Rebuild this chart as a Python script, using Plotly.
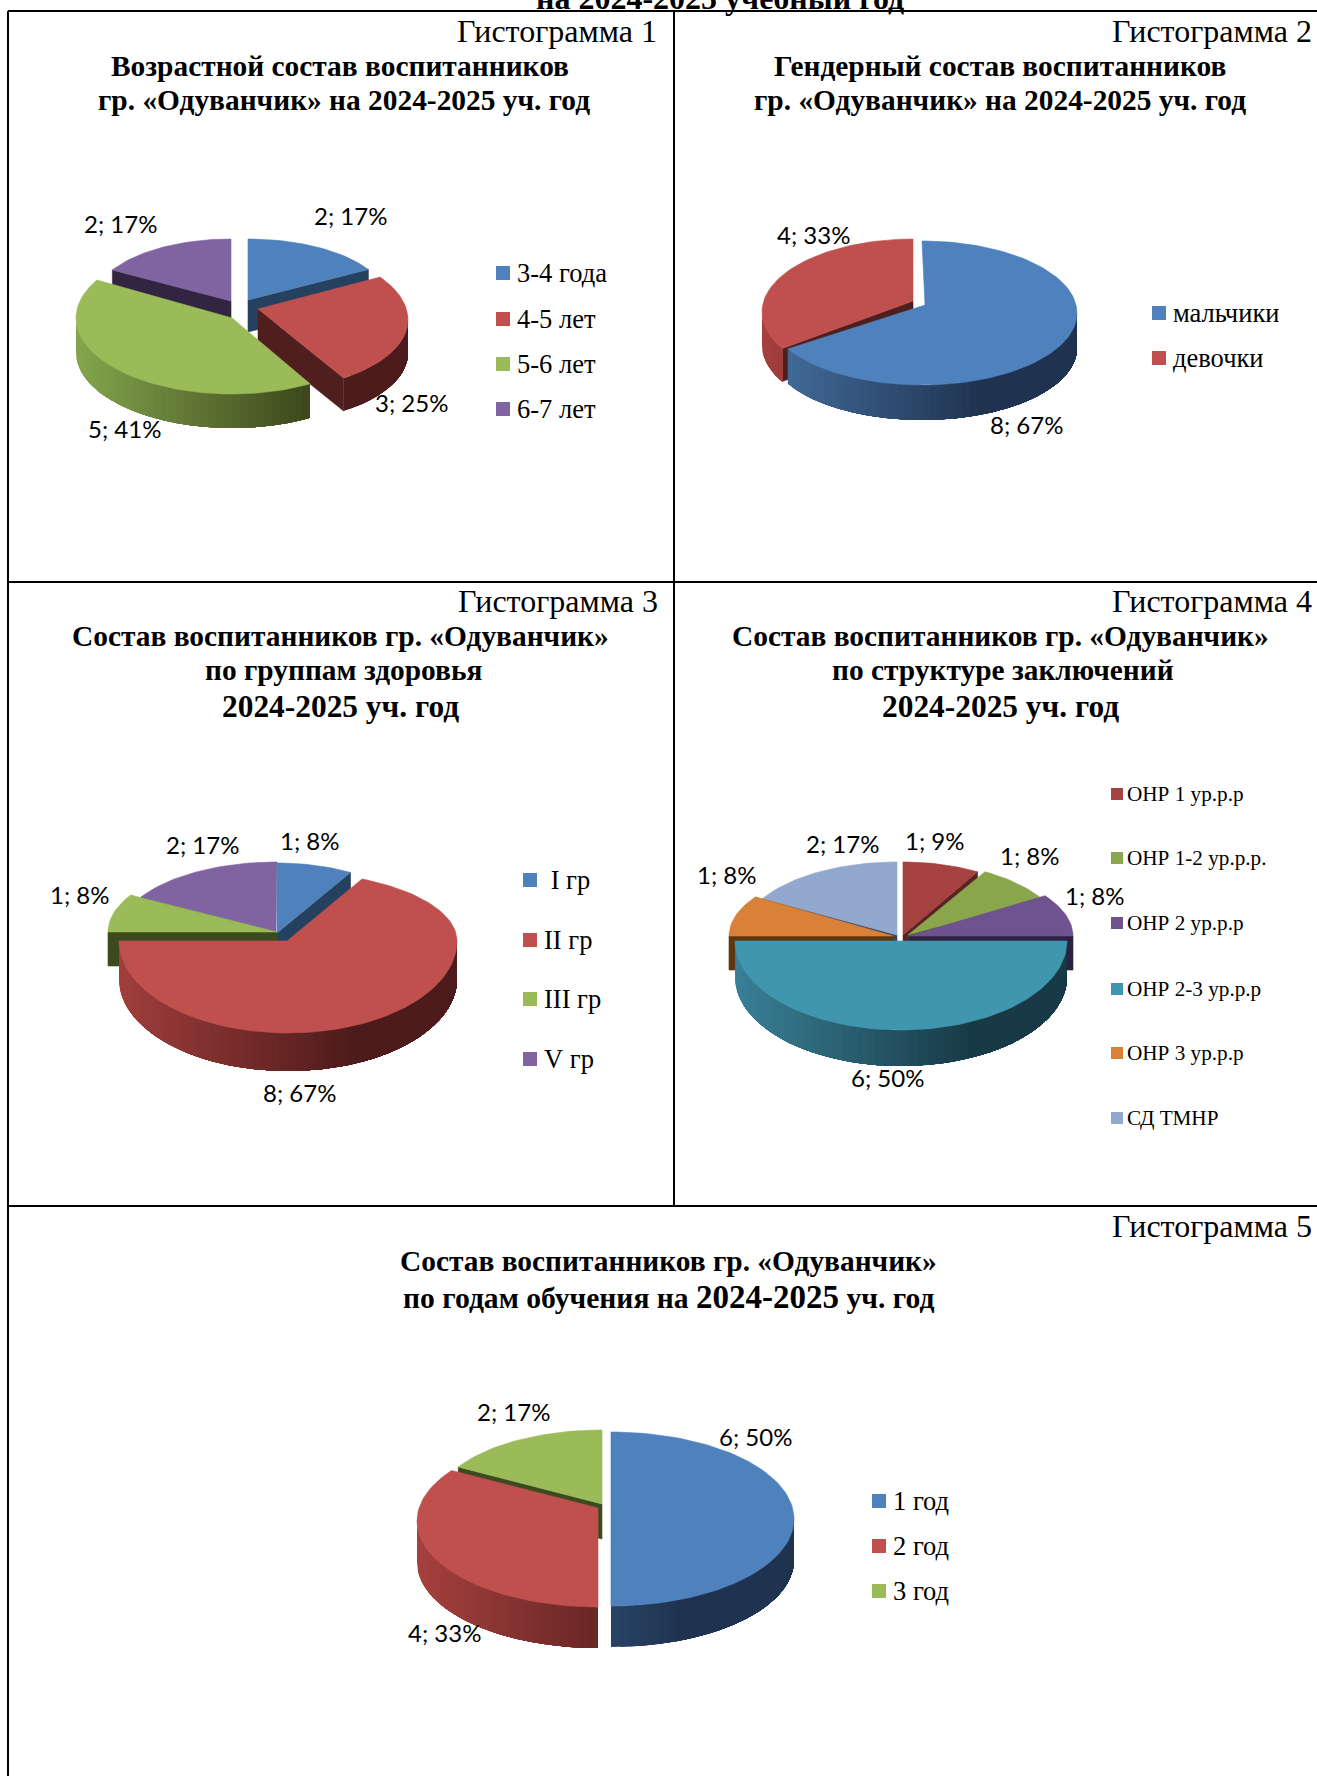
import math
import plotly.graph_objects as go

# ---------- data ----------
age_categories = ["3-4 года", "4-5 лет", "5-6 лет", "6-7 лет"]
age_values = [2, 3, 5, 2]
age_percent = [17, 25, 41, 17]

gender_categories = ["мальчики", "девочки"]
gender_values = [8, 4]
gender_percent = [67, 33]

health_categories = [" I гр", "II гр", "III гр", "V гр"]
health_values = [1, 8, 1, 2]
health_percent = [8, 67, 8, 17]

speech_categories = ["ОНР 1 ур.р.р", "ОНР 1-2 ур.р.р.", "ОНР 2 ур.р.р", "ОНР 2-3 ур.р.р", "ОНР 3 ур.р.р", "СД ТМНР"]
speech_values = [1, 1, 1, 6, 1, 2]
speech_percent = [9, 8, 8, 50, 8, 17]

years_categories = ["1 год", "2 год", "3 год"]
years_values = [6, 4, 2]
years_percent = [50, 33, 17]

# ---------- palettes: top, cut face, wall light, wall dark ----------
BLUE = ("#4F81BD", "#26405F", "#45709F", "#1F3350")
RED = ("#C0504D", "#4F1E1E", "#A5403D", "#4D1B1B")
GREEN = ("#9BBB59", "#3D4A1F", "#84A54D", "#3C481C")
PURPLE = ("#8064A2", "#322542", "#6F5290", "#322542")
D_RED = ("#A5413F", "#5A2222", "#A5413F", "#4D1B1B")
D_GREEN = ("#8AA64B", "#3D4A1F", "#84A54D", "#3C481C")
D_PURPLE = ("#6F5290", "#2E2142", "#6F5290", "#2E2142")
TEAL = ("#3F96AE", "#183A47", "#3A8298", "#183A47")
ORANGE = ("#D98139", "#5E3711", "#C87430", "#5E3711")
L_BLUE = ("#92A8CF", "#3A4760", "#7F95BC", "#3A4760")

# each slice: apex x,y / ellipse x,y,rx,(ry above,ry below) / depth / palette; draw = painter's order
# trim = perspective correction of a slice's start and end direction, in degrees
charts = [
    dict(cats=age_categories, vals=age_values, pct=age_percent, draw=[3, 0, 1, 2], trim={1: (-6, -4)},
         geo=[(248, 300, 248, 300, 139, (61, 61), 32, BLUE),
              (258, 309, 262, 320, 146, (73, 70), 33, RED),
              (232, 318, 232, 318, 156, (76, 76), 34, GREEN),
              (231, 301, 231, 301, 137, (62, 62), 32, PURPLE)],
         labels=[(350, 215), (411, 402), (124, 428), (120, 223)],
         title=[("Возрастной состав воспитанников", 340, 66, 29.4), ("гр. «Одуванчик» на 2024-2025 уч. год", 344, 100, 29.4)],
         hist=("Гистограмма 1", 658, 31),
         legend=dict(x=503, tx=516, ys=[273, 319, 364, 409], size=14, font=26.5)),
    dict(cats=gender_categories, vals=gender_values, pct=gender_percent, draw=[1, 0], trim={},
         geo=[(925, 305, 922, 313, 155, (72, 72), 35, BLUE),
              (913, 301, 913, 312, 151, (73, 73), 33, RED)],
         labels=[(1026, 424), (813, 234)],
         title=[("Гендерный состав воспитанников", 1000, 66, 29.4), ("гр. «Одуванчик» на 2024-2025 уч. год", 1000, 100, 29.4)],
         hist=("Гистограмма 2", 1313, 31),
         legend=dict(x=1159, tx=1172, ys=[313, 358], size=14, font=26.5)),
    dict(cats=health_categories, vals=health_values, pct=health_percent, draw=[3, 0, 2, 1], trim={1: (-4, 0)},
         geo=[(277, 933, 277, 933, 147, (70, 70), 34, BLUE),
              (287, 941, 288, 941, 169, (69, 92), 38, RED),
              (277, 932, 277, 932, 169, (74, 74), 34, GREEN),
              (276, 932, 277, 932, 157, (70, 70), 34, PURPLE)],
         labels=[(310, 840), (299, 1092), (80, 894), (202, 844)],
         title=[("Состав воспитанников гр. «Одуванчик»", 340, 636, 29.4), ("по группам здоровья", 343, 670, 29.4), ("2024-2025 уч. год", 340, 706, 31.4)],
         hist=("Гистограмма 3", 659, 601),
         legend=dict(x=530, tx=543, ys=[880, 940, 999, 1059], size=14, font=26.5)),
    dict(cats=speech_categories, vals=speech_values, pct=speech_percent, draw=[5, 0, 1, 2, 4, 3], trim={2: (-4, 0), 4: (0, 3)},
         geo=[(903, 935, 903, 935, 149, (73, 73), 20, D_RED),
              (908, 935, 908, 935, 154, (73, 73), 8, D_GREEN),
              (909, 936, 909, 936, 164, (72, 72), 34, D_PURPLE),
              (901, 941, 901, 941, 166, (89, 89), 36, TEAL),
              (893, 936, 893, 936, 164, (72, 72), 34, ORANGE),
              (897, 935, 897, 935, 155, (73, 73), 8, L_BLUE)],
         labels=[(935, 840), (1030, 855), (1095, 895), (887, 1077), (727, 874), (842, 843)],
         title=[("Состав воспитанников гр. «Одуванчик»", 1000, 636, 29.4), ("по структуре заключений", 1003, 670, 29.4), ("2024-2025 уч. год", 1000, 706, 31.4)],
         hist=("Гистограмма 4", 1313, 601),
         legend=dict(x=1117, tx=1126, ys=[794, 858, 923, 989, 1053, 1118], size=12, font=21.2)),
    dict(cats=years_categories, vals=years_values, pct=years_percent, draw=[2, 1, 0], trim={1: (0, 6)},
         geo=[(611, 1519, 611, 1519, 183, (87, 87), 41, BLUE),
              (598, 1508, 598, 1521, 181, (86, 86), 41, RED),
              (602, 1504, 602, 1504, 166, (74, 74), 35, GREEN)],
         labels=[(755, 1436), (444, 1632), (513, 1411)],
         title=[("Состав воспитанников гр. «Одуванчик»", 668, 1261, 29.4),
                ('по годам обучения на <span style="font-size:33px">2024-2025</span> уч. год', 668, 1297, 29.6)],
         hist=("Гистограмма 5", 1313, 1226),
         legend=dict(x=879, tx=892, ys=[1501, 1546, 1591], size=14, font=26.5)),
]

SERIF = "Liberation Serif"
LABEL_FONT = "Lato"


def lerp(c0, c1, t):
    t = max(0.0, min(1.0, t))
    a = [int(c0[i:i + 2], 16) for i in (1, 3, 5)]
    b = [int(c1[i:i + 2], 16) for i in (1, 3, 5)]
    return "#" + "".join(f"{round(p + (q - p) * t):02X}" for p, q in zip(a, b))


def pt(ex, ey, rx, ry, deg):
    r = math.radians(deg)
    c = math.cos(r)
    return ex + rx * math.sin(r), ey - (ry[0] if c > 0 else ry[1]) * c


def poly(fig, xs, ys, color, name=None, width=0.6):
    fig.add_trace(go.Scatter(x=xs + xs[:1], y=ys + ys[:1], mode="lines", fill="toself", fillcolor=color,
                             line=dict(color=color, width=width), hoverinfo="skip" if name is None else "name",
                             name=name or "", showlegend=False))


fig = go.Figure()
annotations = []


def text(s, x, y, size, family=SERIF, anchor="center", color="#000000", yshift=0):
    annotations.append(dict(text=s, x=x, y=y, xref="x", yref="y", showarrow=False, xanchor=anchor, yanchor="middle",
                            yshift=yshift, font=dict(family=family, size=size, color=color), borderpad=0, align="center"))


for ch in charts:
    total = sum(ch["vals"])
    cum = 0
    spans = []
    for v in ch["vals"]:
        spans.append((cum / total * 360, (cum + v) / total * 360))
        cum += v
    x_lo = min(g[2] - g[4] for g in ch["geo"])
    x_hi = max(g[2] + g[4] for g in ch["geo"])
    for i in ch["draw"]:
        ax, ay, ex, ey, rx, ry, d, pal = ch["geo"][i]
        a0, a1 = spans[i]
        t0, t1 = ch["trim"].get(i, (0, 0))
        top, cut, wall_l, wall_d = pal
        # cut faces turned towards the viewer
        if 180 < a0 < 360:
            px, py = pt(ex, ey, rx, ry, a0 + t0)
            poly(fig, [ax, px, px, ax], [ay, py, py + d, ay + d], cut)
        if 0 < a1 < 180:
            px, py = pt(ex, ey, rx, ry, a1 + t1)
            poly(fig, [ax, px, px, ax], [ay, py, py + d, ay + d], cut)
        a0 += t0
        a1 += t1
        # outer wall with a left-to-right shade: bands overlap, each reaching the wall's right end
        w0, w1 = max(a0, 90), min(a1, 270)
        if w1 > w0:
            n = max(2, int((w1 - w0) / 3))
            steps = [w0 + (w1 - w0) * k / n for k in range(n + 1)]
            for k in range(n, 0, -1):
                arc = [pt(ex, ey, rx, ry, a) for a in steps[:k + 1]]
                mid = pt(ex, ey, rx, ry, (steps[k] + steps[k - 1]) / 2)[0]
                t = (mid - x_lo) / (x_hi - x_lo) / 0.7
                xs = [p[0] for p in arc]
                ys = [p[1] for p in arc]
                poly(fig, xs + xs[::-1], ys + [y + d for y in ys[::-1]], lerp(wall_l, wall_d, t), width=0)
        # top face
        n = max(2, int((a1 - a0) / 2))
        arc = [pt(ex, ey, rx, ry, a0 + (a1 - a0) * k / n) for k in range(n + 1)]
        poly(fig, [ax] + [p[0] for p in arc], [ay] + [p[1] for p in arc], top, ch["cats"][i].strip())
    # value labels
    for (lx, ly), v, p in zip(ch["labels"], ch["vals"], ch["pct"]):
        text(f"{v}; {p}%", lx, ly, 24, LABEL_FONT)
    # legend
    lg = ch["legend"]
    fig.add_trace(go.Scatter(x=[lg["x"]] * len(lg["ys"]), y=lg["ys"], mode="markers", hoverinfo="skip", showlegend=False,
                             marker=dict(symbol="square", size=lg["size"], color=[g[7][0] for g in ch["geo"]], line=dict(width=0))))
    for cat, y in zip(ch["cats"], lg["ys"]):
        text(cat.replace(" ", "\u00a0"), lg["tx"], y, lg["font"], anchor="left")
    # titles
    for s, x, y, size in ch["title"]:
        text(f"<b>{s}</b>", x, y, size)
    h, hx, hy = ch["hist"]
    text(h, hx, hy, 32, anchor="right")

text("<b>на 2024-2025 учебный год</b>", 720, 0, 32, yshift=2)

LINE = dict(color="#000000", width=2)
shapes = [dict(type="line", xref="x", yref="y", x0=x0, y0=y0, x1=x1, y1=y1, line=LINE, layer="below")
          for x0, y0, x1, y1 in [(8, 11, 1317, 11), (8, 11, 8, 1776), (674, 11, 674, 1206), (8, 582, 1317, 582), (8, 1206, 1317, 1206)]]

fig.update_layout(width=1317, height=1776, margin=dict(l=0, r=0, t=0, b=0), paper_bgcolor="#FFFFFF", plot_bgcolor="#FFFFFF",
                  showlegend=False, annotations=annotations, shapes=shapes,
                  xaxis=dict(range=[0, 1317], visible=False, fixedrange=True),
                  yaxis=dict(range=[1776, 0], visible=False, fixedrange=True))
fig.write_html("out.html", config={"displayModeBar": False},
               post_script="document.body.style.margin='0';document.documentElement.style.overflow='hidden';")
